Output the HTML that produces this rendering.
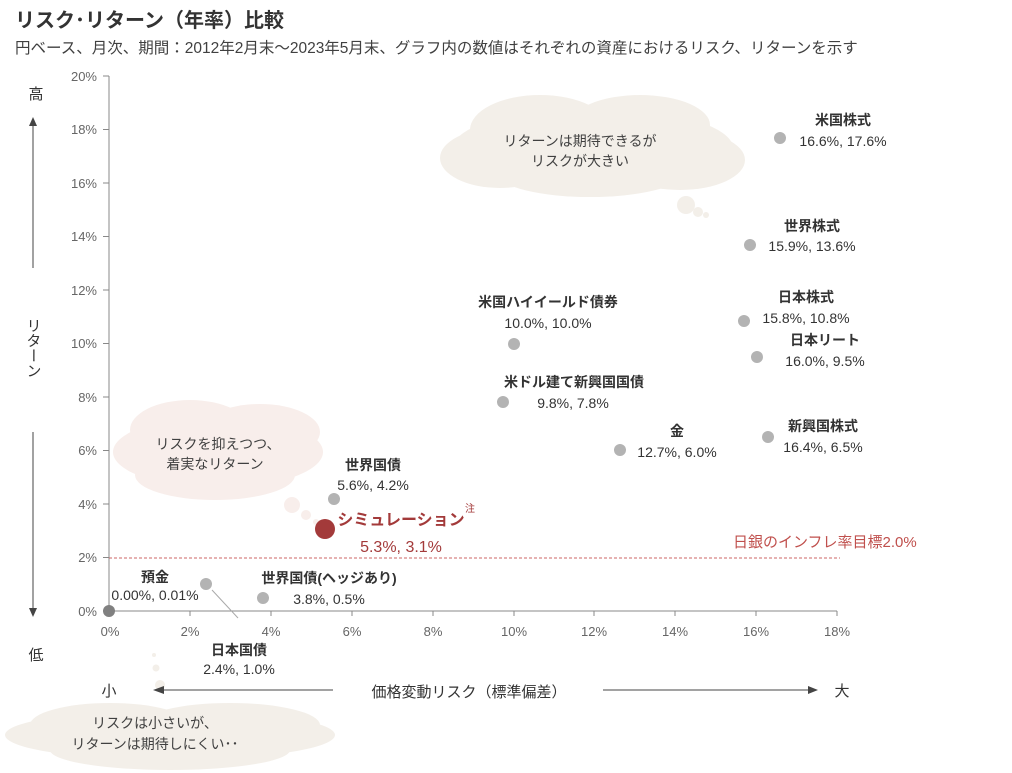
<!DOCTYPE html>
<html><head><meta charset="utf-8"><style>
body{margin:0;background:#fff;}
svg{display:block;font-family:"Liberation Sans","Noto Sans CJK JP",sans-serif;}
.t{font-size:14px;fill:#404040;}
.b{font-size:14px;fill:#333;font-weight:bold;}
.v{font-size:14px;fill:#333;}
.tk{font-size:13px;fill:#666;}
</style></head><body>
<svg width="1012" height="773" viewBox="0 0 1012 773">
<text x="15" y="27" font-size="20" font-weight="bold" fill="#333">リスク･リターン（年率）比較</text>
<text x="15" y="53" font-size="15.5" fill="#404040">円ベース、月次、期間：2012年2月末～2023年5月末、グラフ内の数値はそれぞれの資産におけるリスク、リターンを示す</text>
<!-- clouds -->
<g fill="#f3efe9">
<ellipse cx="593" cy="148" rx="140" ry="40"/><ellipse cx="540" cy="130" rx="70" ry="35"/><ellipse cx="640" cy="125" rx="70" ry="30"/><ellipse cx="500" cy="158" rx="60" ry="30"/><ellipse cx="680" cy="160" rx="65" ry="30"/><ellipse cx="590" cy="175" rx="90" ry="22"/>
<circle cx="686" cy="205" r="9"/><circle cx="698" cy="212" r="5"/><circle cx="706" cy="215" r="3"/>
<ellipse cx="170" cy="735" rx="165" ry="25"/><ellipse cx="110" cy="725" rx="80" ry="22"/><ellipse cx="230" cy="725" rx="90" ry="22"/><ellipse cx="170" cy="750" rx="120" ry="20"/>
<circle cx="160" cy="685" r="5"/><circle cx="156" cy="668" r="3.5"/><circle cx="154" cy="655" r="2"/>
</g>
<g fill="#f8eeeb">
<ellipse cx="218" cy="452" rx="105" ry="36"/><ellipse cx="190" cy="430" rx="60" ry="30"/><ellipse cx="260" cy="432" rx="60" ry="28"/><ellipse cx="215" cy="475" rx="80" ry="25"/>
<circle cx="292" cy="505" r="8"/><circle cx="306" cy="515" r="5"/><circle cx="316" cy="522" r="3"/>
</g>
<text x="218" y="449" text-anchor="middle" class="t">リスクを抑えつつ、</text>
<text x="215" y="469" text-anchor="middle" class="t">着実なリターン</text>
<text x="580" y="146" text-anchor="middle" class="t">リターンは期待できるが</text>
<text x="580" y="166" text-anchor="middle" class="t">リスクが大きい</text>
<text x="155" y="728" text-anchor="middle" class="t">リスクは小さいが、</text>
<text x="155" y="749" text-anchor="middle" class="t">リターンは期待しにくい･･</text>
<!-- axes -->
<g stroke="#888" stroke-width="1">
<line x1="109" y1="76" x2="109" y2="611"/><line x1="109" y1="611" x2="837" y2="611"/>
<line x1="103" y1="76" x2="109" y2="76"/><line x1="103" y1="129.5" x2="109" y2="129.5"/><line x1="103" y1="183" x2="109" y2="183"/><line x1="103" y1="236.5" x2="109" y2="236.5"/><line x1="103" y1="290" x2="109" y2="290"/><line x1="103" y1="343.5" x2="109" y2="343.5"/><line x1="103" y1="397" x2="109" y2="397"/><line x1="103" y1="450.5" x2="109" y2="450.5"/><line x1="103" y1="504" x2="109" y2="504"/><line x1="103" y1="557.5" x2="109" y2="557.5"/><line x1="103" y1="611" x2="109" y2="611"/>
<line x1="190" y1="611" x2="190" y2="616"/><line x1="271" y1="611" x2="271" y2="616"/><line x1="352" y1="611" x2="352" y2="616"/><line x1="433" y1="611" x2="433" y2="616"/><line x1="514" y1="611" x2="514" y2="616"/><line x1="594" y1="611" x2="594" y2="616"/><line x1="675" y1="611" x2="675" y2="616"/><line x1="756" y1="611" x2="756" y2="616"/><line x1="837" y1="611" x2="837" y2="616"/>
</g>
<g class="tk" text-anchor="end">
<text x="97" y="81" class="tk">20%</text><text x="97" y="134" class="tk">18%</text><text x="97" y="188" class="tk">16%</text><text x="97" y="241" class="tk">14%</text><text x="97" y="295" class="tk">12%</text><text x="97" y="348" class="tk">10%</text><text x="97" y="402" class="tk">8%</text><text x="97" y="455" class="tk">6%</text><text x="97" y="509" class="tk">4%</text><text x="97" y="562" class="tk">2%</text><text x="97" y="616" class="tk">0%</text>
</g>
<g text-anchor="middle">
<text x="110" y="636" class="tk">0%</text><text x="190" y="636" class="tk">2%</text><text x="271" y="636" class="tk">4%</text><text x="352" y="636" class="tk">6%</text><text x="433" y="636" class="tk">8%</text><text x="514" y="636" class="tk">10%</text><text x="594" y="636" class="tk">12%</text><text x="675" y="636" class="tk">14%</text><text x="756" y="636" class="tk">16%</text><text x="837" y="636" class="tk">18%</text>
</g>
<line x1="109" y1="558" x2="840" y2="558" stroke="#c66" stroke-dasharray="3,2"/>
<text x="733" y="547" font-size="15" fill="#c0504d">日銀のインフレ率目標2.0%</text>
<!-- side arrows -->
<g stroke="#444" fill="#444">
<line x1="33" y1="268" x2="33" y2="122"/><polygon points="29,126 37,126 33,117" stroke="none"/>
<line x1="33" y1="432" x2="33" y2="612"/><polygon points="29,608 37,608 33,617" stroke="none"/>
<line x1="333" y1="690" x2="160" y2="690"/><polygon points="164,686 164,694 153,690" stroke="none"/>
<line x1="603" y1="690" x2="810" y2="690"/><polygon points="808,686 808,694 818,690" stroke="none"/>
</g>
<text x="36" y="99" text-anchor="middle" font-size="15" fill="#333">高</text>
<text x="36" y="660" text-anchor="middle" font-size="15" fill="#333">低</text>
<text x="33" y="318" font-size="15" fill="#333" style="writing-mode:vertical-rl">リターン</text>
<text x="109" y="696" text-anchor="middle" font-size="15" fill="#333">小</text>
<text x="842" y="696" text-anchor="middle" font-size="15" fill="#333">大</text>
<text x="469" y="697" text-anchor="middle" font-size="15" fill="#333">価格変動リスク（標準偏差）</text>
<!-- points -->
<line x1="212" y1="590" x2="238" y2="618" stroke="#aaa"/>
<g fill="#b3b3b3">
<circle cx="206" cy="584" r="6"/><circle cx="263" cy="598" r="6"/><circle cx="334" cy="499" r="6"/><circle cx="514" cy="344" r="6"/><circle cx="503" cy="402" r="6"/><circle cx="620" cy="450" r="6"/><circle cx="780" cy="138" r="6"/><circle cx="750" cy="245" r="6"/><circle cx="744" cy="321" r="6"/><circle cx="757" cy="357" r="6"/><circle cx="768" cy="437" r="6"/>
</g>
<circle cx="109" cy="611" r="6" fill="#808080"/>
<circle cx="325" cy="529" r="10" fill="#a33a3a"/>
<!-- labels -->
<g text-anchor="middle">
<text x="155" y="582" class="b">預金</text><text x="155" y="600" class="v">0.00%, 0.01%</text>
<text x="239" y="655" class="b">日本国債</text><text x="239" y="674" class="v">2.4%, 1.0%</text>
<text x="329" y="583" class="b">世界国債(ヘッジあり)</text><text x="329" y="604" class="v">3.8%, 0.5%</text>
<text x="373" y="470" class="b">世界国債</text><text x="373" y="490" class="v">5.6%, 4.2%</text>
<text x="401" y="525" font-size="16" fill="#a33a3a" font-weight="bold">シミュレーション</text>
<text x="401" y="552" font-size="16" fill="#a33a3a">5.3%, 3.1%</text>
<text x="548" y="307" class="b">米国ハイイールド債券</text><text x="548" y="328" class="v">10.0%, 10.0%</text>
<text x="574" y="387" class="b">米ドル建て新興国国債</text><text x="573" y="408" class="v">9.8%, 7.8%</text>
<text x="677" y="436" class="b">金</text><text x="677" y="457" class="v">12.7%, 6.0%</text>
<text x="843" y="125" class="b">米国株式</text><text x="843" y="146" class="v">16.6%, 17.6%</text>
<text x="812" y="231" class="b">世界株式</text><text x="812" y="251" class="v">15.9%, 13.6%</text>
<text x="806" y="302" class="b">日本株式</text><text x="806" y="323" class="v">15.8%, 10.8%</text>
<text x="825" y="345" class="b">日本リート</text><text x="825" y="366" class="v">16.0%, 9.5%</text>
<text x="823" y="431" class="b">新興国株式</text><text x="823" y="452" class="v">16.4%, 6.5%</text>
</g>
<text x="465" y="512" font-size="10" fill="#a33a3a">注</text>
</svg>
</body></html>
